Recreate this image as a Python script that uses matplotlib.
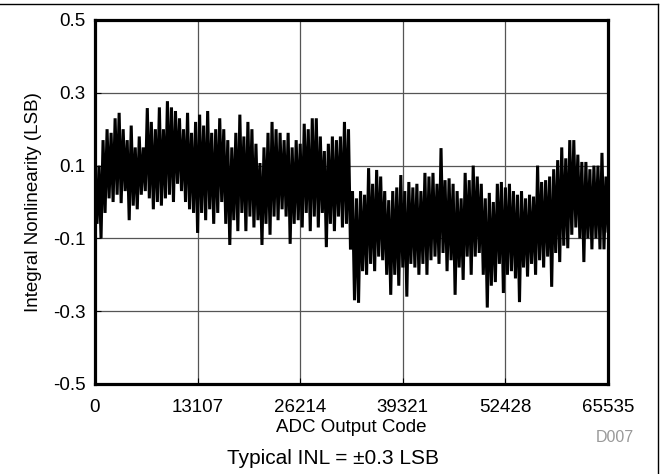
import numpy as np
import matplotlib
matplotlib.use("Agg")
import matplotlib.pyplot as plt
from matplotlib.lines import Line2D

plt.rcParams['font.family'] = ['Liberation Sans', 'DejaVu Sans']

# INL envelope samples (upper peaks / lower troughs)
highs = [0.07, 0.10, 0.17, 0.20, 0.19, 0.23, 0.245, 0.20, 0.17, 0.21,
         0.15, 0.18, 0.15, 0.258, 0.22, 0.20, 0.26, 0.20, 0.277, 0.26,
         0.25, 0.23, 0.20, 0.245, 0.19, 0.22, 0.24, 0.21, 0.25, 0.19,
         0.20, 0.23, 0.20, 0.17, 0.15, 0.19, 0.24, 0.18, 0.22, 0.20,
         0.16, 0.107, 0.15, 0.19, 0.22, 0.20, 0.19, 0.17, 0.19, 0.15,
         0.17, 0.16, 0.215, 0.20, 0.23, 0.23, 0.18, 0.14, 0.16, 0.18,
         0.17, 0.18, 0.22, 0.20, 0.03, 0.01, 0.03, 0.02, 0.093, 0.05,
         0.088, 0.07, 0.03, 0.005, 0.03, 0.04, 0.074, 0.03, 0.055, 0.04,
         0.05, 0.03, 0.08, 0.07, 0.08, 0.05, 0.148, 0.06, 0.065, 0.05,
         0.03, 0.01, 0.08, 0.06, 0.10, 0.07, 0.05, 0.01, 0.025, 0.0,
         0.05, 0.055, 0.04, 0.05, 0.03, 0.02, 0.03, 0.01, 0.02, 0.015,
         0.10, 0.055, 0.06, 0.07, 0.09, 0.115, 0.15, 0.12, 0.17, 0.17,
         0.13, 0.11, 0.11, 0.09, 0.10, 0.10, 0.135, 0.07]
lows = [-0.06, -0.10, -0.03, 0.01, 0.0, 0.02, -0.003, 0.03, -0.05, -0.01,
        -0.02, 0.02, 0.03, 0.01, -0.02, 0.0, -0.01, 0.01, 0.02, 0.0,
        0.05, 0.03, 0.0, -0.02, -0.03, -0.085, -0.03, -0.05, -0.02, -0.06,
        -0.03, 0.0, -0.06, -0.118, -0.05, -0.08, -0.03, -0.08, -0.04, -0.07,
        -0.05, -0.118, -0.06, -0.09, -0.04, -0.05, -0.02, -0.04, -0.115, -0.06,
        -0.05, -0.07, -0.03, -0.08, -0.04, -0.07, -0.03, -0.124, -0.06, -0.08,
        -0.04, -0.07, -0.06, -0.13, -0.27, -0.277, -0.19, -0.20, -0.17, -0.19,
        -0.15, -0.16, -0.20, -0.255, -0.20, -0.23, -0.18, -0.26, -0.17, -0.18,
        -0.20, -0.17, -0.20, -0.16, -0.15, -0.17, -0.14, -0.19, -0.16, -0.255,
        -0.18, -0.214, -0.15, -0.20, -0.15, -0.14, -0.20, -0.29, -0.23, -0.22,
        -0.17, -0.25, -0.20, -0.19, -0.21, -0.275, -0.18, -0.205, -0.17, -0.20,
        -0.16, -0.18, -0.15, -0.233, -0.14, -0.165, -0.12, -0.127, -0.09, -0.07,
        -0.10, -0.165, -0.10, -0.13, -0.10, -0.13, -0.13, -0.08]

xticks = [0, 13107, 26214, 39321, 52428, 65535]
yticks = [-0.5, -0.3, -0.1, 0.1, 0.3, 0.5]
ytick_labels = ['-0.5', '-0.3', '-0.1', '0.1', '0.3', '0.5']

values = np.empty(2 * len(highs))
values[0::2] = highs
values[1::2] = lows
codes = np.linspace(0, 65535, len(values))

fig = plt.figure(figsize=(6.66, 4.74), dpi=100)
ax = fig.add_axes([95/666, 1 - 384/474, (608-95)/666, (384-20)/474])

ax.plot(codes, values, color='black', lw=2.2, solid_joinstyle='miter')

ax.set_xlim(0, 65535)
ax.set_ylim(-0.5, 0.5)
ax.set_xticks(xticks)
ax.set_xticklabels([str(t) for t in xticks])
ax.set_yticks(yticks)
ax.set_yticklabels(ytick_labels)
ax.grid(True, color='#555555', lw=0.9)
ax.set_axisbelow(True)
ax.tick_params(direction='in', length=4, width=0.8, labelsize=13.5)
ax.tick_params(axis='x', pad=11)
ax.tick_params(axis='y', pad=7)
for s in ax.spines.values():
    s.set_linewidth(2.3)
    s.set_color('black')

ax.set_xlabel('ADC Output Code', fontsize=13.5, labelpad=2)
ax.set_ylabel('Integral Nonlinearity (LSB)', fontsize=13.5, labelpad=8)

fig.text(615/666, 1 - 437.5/474, 'D007', fontsize=11.5, color='#999999',
         ha='center', va='center')
fig.text(333/666, 1 - 458/474, 'Typical INL = \u00b10.3 LSB', fontsize=15,
         ha='center', va='center')

fig.add_artist(Line2D([0, 658/666], [1 - 4/474, 1 - 4/474], transform=fig.transFigure,
                      color='black', lw=1.0))
fig.add_artist(Line2D([658/666, 658/666], [1 - 4/474, 0], transform=fig.transFigure,
                      color='black', lw=1.0))

fig.savefig('out.png', dpi=100)
